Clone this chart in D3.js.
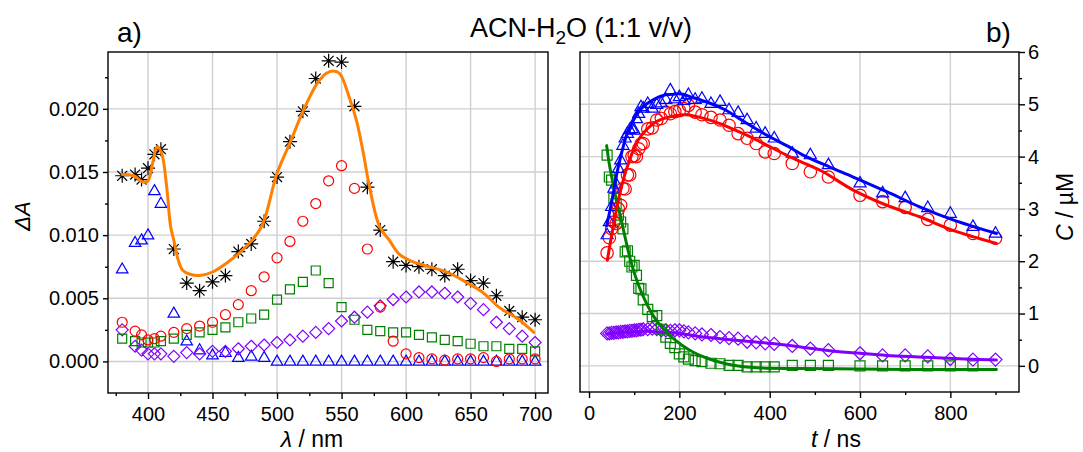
<!DOCTYPE html>
<html>
<head>
<meta charset="utf-8">
<script src="https://cdn.jsdelivr.net/npm/d3@7"></script>
<style>
  body { margin: 0; background: #fff; }
  svg { display: block; }
  text { font-family: "Liberation Sans", Arial, Helvetica, sans-serif; fill: #000; }
</style>
</head>
<body>
<svg id="chart" width="1083" height="452"></svg>
<script>
// ---------- panel a: transient absorption spectra ----------
const wavelength = [380,390,395,400,405,410,420,430,440,450,460,470,480,490,500,510,520,530,540,550,560,570,580,590,600,610,620,630,640,650,660,670,680,690,700];
const specStar = [0.0147,0.0148,0.0144,0.0153,0.0164,0.0168,0.0089,0.0062,0.0056,0.0063,0.0068,0.0087,0.0093,0.0111,0.0146,0.0174,0.0198,0.0224,0.0238,0.0237,0.0202,0.0138,0.0104,0.0079,0.0076,0.0075,0.0073,0.0068,0.0073,0.0064,0.0062,0.0052,0.0040,0.0035,0.0033];
const specCircle = [0.0031,0.0024,0.0021,0.0017,0.0018,0.0020,0.0023,0.0026,0.0028,0.0031,0.0037,0.0045,0.0056,0.0067,0.0082,0.0095,0.0111,0.0125,0.0143,0.0155,0.0137,0.0089,0.0043,0.0016,0.0006,0.0003,0.0002,0.0001,0.0002,0.0002,0.0003,0.0000,0.0002,0.0002,0.0002];
const specSquare = [0.0018,0.0016,0.0015,0.0015,0.0015,0.0016,0.0018,0.0021,0.0023,0.0025,0.0027,0.0031,0.0034,0.0037,0.0049,0.0057,0.0063,0.0072,0.0062,0.0043,0.0033,0.0025,0.0024,0.0023,0.0023,0.0021,0.0019,0.0017,0.0016,0.0014,0.0012,0.0012,0.0010,0.0010,0.0008];
const specDiamond = [0.0025,0.0012,0.0009,0.0006,0.0006,0.0006,0.0004,0.0007,0.0006,0.0008,0.0008,0.0010,0.0012,0.0013,0.0015,0.0017,0.0020,0.0023,0.0026,0.0032,0.0035,0.0039,0.0044,0.0049,0.0051,0.0055,0.0055,0.0054,0.0051,0.0046,0.0041,0.0031,0.0026,0.0020,0.0015];
const specTriangle = [0.0074,0.0095,0.0097,0.0101,0.0136,0.0126,0.0039,0.0017,0.0010,0.0006,0.0008,0.0004,0.0005,0.0004,0.0001,0.0001,0.0001,0.0001,0.0001,0.0001,0.0001,0.0001,0.0001,0.0001,0.0001,0.0001,0.0001,0.0001,0.0001,0.0001,0.0001,0.0001,0.0001,0.0001,0.0001];

// fitted spectrum (orange curve)
const fitLambda = [380,389,396,400,404,407,410.5,414.5,417.5,420,423.5,427,432.5,440,450.5,461,471,481.5,489,500,510,520.5,531,538,543.6,548.5,556,561.5,566.5,571.7,579.4,587,594.7,605,618,633.4,646,659,672,687.5,699];
const fitDA = [0.0148,0.0147,0.0142,0.0143,0.0159,0.0170,0.0165,0.0138,0.0107,0.0096,0.0080,0.0072,0.0069,0.0068,0.0071,0.0078,0.0086,0.0097,0.0109,0.0149,0.0173,0.0199,0.0220,0.0228,0.0230,0.0228,0.0209,0.0191,0.0167,0.0138,0.0107,0.0096,0.0085,0.0079,0.0075,0.0070,0.0063,0.0055,0.0043,0.0033,0.0023];

const lambdaTicks = [400,450,500,550,600,650,700];
const lambdaMinor = [375,425,475,525,575,625,675];
const daTicks = [0,0.005,0.010,0.015,0.020];
const daMinor = [0.0025,0.0075,0.0125,0.0175,0.0225];

// ---------- panel b: concentration kinetics ----------
const timeNs = [40,45,50,55,60,65,70,75,80,85,90,95,100,105,110,115,120,130,140,150,160,170,180,190,200,210,220,235,250,270,290,310,330,350,370,390,410,450,490,530,600,650,700,750,800,850,900];
const concTriangle = [2.53,2.78,3.07,3.42,3.50,3.80,3.96,4.24,4.38,4.47,4.54,4.56,4.53,4.75,4.85,4.98,4.95,5.04,4.95,5.02,5.05,5.12,5.30,5.13,5.17,5.10,5.21,5.12,5.14,5.04,5.08,4.92,4.87,4.73,4.57,4.47,4.38,4.09,4.06,3.87,3.52,3.33,3.24,3.05,2.94,2.69,2.56];
const concCircle = [2.16,2.45,2.62,2.75,2.72,3.00,3.07,3.39,3.38,3.65,3.65,4.00,4.02,4.00,4.15,4.24,4.25,4.53,4.55,4.70,4.73,4.85,4.82,4.86,4.88,4.92,4.98,4.85,4.80,4.75,4.70,4.60,4.44,4.35,4.25,4.09,4.06,3.87,3.71,3.61,3.26,3.14,3.03,2.80,2.69,2.53,2.44];
const concSquare = [4.03,3.61,3.55,3.20,3.10,2.88,2.75,2.62,2.18,2.20,2.00,1.89,1.92,1.73,1.48,1.47,1.26,1.08,0.94,0.96,0.70,0.55,0.43,0.35,0.23,0.17,0.13,0.10,0.08,0.05,0.04,0.01,0.01,-0.02,-0.02,-0.02,-0.02,0.01,0.01,0.01,0.00,0.00,0.00,0.00,0.00,0.00,null];
const concDiamond = [0.62,0.62,0.63,0.63,0.64,0.64,0.65,0.65,0.66,0.66,0.67,0.67,0.68,0.68,0.69,0.69,0.70,0.70,0.71,0.70,0.68,0.68,0.67,0.68,0.68,0.66,0.64,0.62,0.60,0.59,0.55,0.53,0.52,0.46,0.45,0.43,0.42,0.38,0.33,0.30,0.24,0.20,0.20,0.18,0.13,0.12,0.12];

// fitted kinetic traces
const fitBlueT = [39,47,54,61,69,76,83,95,105,116,128,145,164,185,201,230,268,300,327,360,400,440,474,533,585,659,732,806,902];
const fitBlueC = [2.68,3.00,3.32,3.65,3.96,4.20,4.41,4.64,4.79,4.92,5.01,5.10,5.17,5.19,5.20,5.13,5.02,4.90,4.76,4.58,4.38,4.20,4.03,3.80,3.61,3.33,3.04,2.79,2.53];
const fitRedT = [40.5,47,54,61,69,80,91,102,113,128,142,160,179,200,216,250,290,325,364,400,437,480,518,585,659,732,806,902];
const fitRedC = [2.02,2.35,2.68,3.00,3.32,3.68,3.96,4.20,4.37,4.52,4.63,4.71,4.76,4.79,4.80,4.74,4.63,4.50,4.35,4.19,4.03,3.86,3.71,3.36,3.07,2.85,2.59,2.34];
const fitGreenT = [39,46,54,61,69,80,91,102,113,127,142,160,179,205,231,260,290,327,380,474,600,750,902];
const fitGreenC = [4.21,3.80,3.45,3.15,2.88,2.45,2.05,1.73,1.47,1.20,0.96,0.75,0.58,0.40,0.26,0.15,0.07,0.00,-0.04,-0.05,-0.06,-0.07,-0.07];
const fitVioletT = [39,80,128,142,200,253,290,350,400,460,533,600,659,730,806,902];
const fitVioletC = [0.61,0.64,0.66,0.65,0.62,0.55,0.52,0.47,0.43,0.37,0.29,0.24,0.20,0.17,0.14,0.11];

const timeTicks = [0,200,400,600,800];
const timeMinor = [100,300,500,700,900];
const concTicks = [0,1,2,3,4,5,6];
const concMinor = [0.5,1.5,2.5,3.5,4.5,5.5];

// ---------- drawing ----------
const svg = d3.select("#chart");
const GRID = "#cfcfcf";
const COL = { black:"#000000", red:"#ff0000", green:"#008000", blue:"#0000ff", violet:"#8000ff", orange:"#ff8000" };

// symbol path builders
const sym = {
  square: s => `M${-s/2},${-s/2}h${s}v${s}h${-s}Z`,
  triangle: (w,h) => `M0,${-h/2}L${w/2},${h/2}L${-w/2},${h/2}Z`,
  diamond: s => `M0,${-s}L${s},0L0,${s}L${-s},0Z`,
  star: s => { const d = s*0.7071;
    return `M0,${-s}V${s}M${-s},0H${s}M${-d},${-d}L${d},${d}M${-d},${d}L${d},${-d}`; }
};

function drawFrame(g, x, y) {
  const [x0,x1] = x.range(), [y0,y1] = y.range();
  g.append("rect").attr("x",x0).attr("y",y1).attr("width",x1-x0).attr("height",y0-y1)
    .attr("fill","none").attr("stroke","#000").attr("stroke-width",1.4);
}

function drawGrid(g, x, y, xt, yt) {
  const [x0,x1] = x.range(), [y0,y1] = y.range();
  g.selectAll(null).data(xt).join("line")
    .attr("x1",d=>x(d)).attr("x2",d=>x(d)).attr("y1",y0).attr("y2",y1)
    .attr("stroke",GRID).attr("stroke-width",1.4);
  g.selectAll(null).data(yt).join("line")
    .attr("y1",d=>y(d)).attr("y2",d=>y(d)).attr("x1",x0).attr("x2",x1)
    .attr("stroke",GRID).attr("stroke-width",1.4);
}

function styleAxis(sel) {
  sel.select(".domain").remove();
  sel.selectAll(".tick line").attr("stroke","#000").attr("stroke-width",1.4);
  sel.selectAll(".tick text").attr("font-size",20).attr("font-family","Liberation Sans, Arial, sans-serif").attr("fill","#000");
}

function scatter(g, xs, ys, x, y, kind, color, size) {
  const pts = xs.map((v,i)=>[v, ys[i]]).filter(p => p[1] !== null);
  const sel = g.append("g").attr("fill","none").attr("stroke",color).attr("stroke-width",1.2);
  if (kind === "circle") {
    sel.selectAll("circle").data(pts).join("circle")
      .attr("cx",d=>x(d[0])).attr("cy",d=>y(d[1])).attr("r",size);
  } else {
    let path;
    if (kind === "square") path = sym.square(size);
    else if (kind === "triangle") path = sym.triangle(size*1.15, size);
    else if (kind === "diamond") path = sym.diamond(size);
    else path = sym.star(size);
    sel.selectAll("path").data(pts).join("path")
      .attr("transform",d=>`translate(${x(d[0])},${y(d[1])})`).attr("d",path);
  }
}

function fitLine(g, xs, ys, x, y, color, w) {
  const line = d3.line().x(d=>x(d[0])).y(d=>y(d[1])).curve(d3.curveCatmullRom.alpha(0.5));
  g.append("path").datum(xs.map((v,i)=>[v,ys[i]]))
    .attr("d",line).attr("fill","none").attr("stroke",color).attr("stroke-width",w)
    .attr("stroke-linejoin","round").attr("stroke-linecap","round");
}

// ---- panel a ----
const xa = d3.scaleLinear().domain([369, 710]).range([108, 548]);
const ya = d3.scaleLinear().domain([-0.0025, 0.0245]).range([393, 52]);
const ga = svg.append("g");
drawGrid(ga, xa, ya, lambdaTicks, daTicks);

const clipA = svg.append("clipPath").attr("id","clipA").append("rect")
  .attr("x",108).attr("y",52).attr("width",440).attr("height",341);
const pa = ga.append("g").attr("clip-path","url(#clipA)");
scatter(pa, wavelength, specTriangle, xa, ya, "triangle", COL.blue, 10);
scatter(pa, wavelength, specDiamond, xa, ya, "diamond", COL.violet, 6);
scatter(pa, wavelength, specSquare, xa, ya, "square", COL.green, 9);
scatter(pa, wavelength, specCircle, xa, ya, "circle", COL.red, 5);
scatter(pa, wavelength, specStar, xa, ya, "star", COL.black, 7);
fitLine(pa, fitLambda, fitDA, xa, ya, COL.orange, 3);
drawFrame(ga, xa, ya);

ga.append("g").attr("transform","translate(0,393)")
  .call(d3.axisBottom(xa).tickValues(lambdaTicks).tickSize(6).tickPadding(8).tickFormat(d3.format("d")))
  .call(styleAxis);
ga.append("g").attr("transform","translate(0,393)")
  .call(d3.axisBottom(xa).tickValues(lambdaMinor).tickSize(3).tickFormat(""))
  .call(styleAxis);
ga.append("g").attr("transform","translate(108,0)")
  .call(d3.axisLeft(ya).tickValues(daTicks).tickSize(5).tickPadding(4).tickFormat(d3.format(".3f")))
  .call(styleAxis);
ga.append("g").attr("transform","translate(108,0)")
  .call(d3.axisLeft(ya).tickValues(daMinor).tickSize(3).tickFormat(""))
  .call(styleAxis);

// ---- panel b ----
const xb = d3.scaleLinear().domain([-20, 952]).range([580, 1019]);
const yb = d3.scaleLinear().domain([-0.5, 6]).range([392, 52]);
const gb = svg.append("g");
drawGrid(gb, xb, yb, timeTicks, [0,1,2,3,4,5]);

const clipB = svg.append("clipPath").attr("id","clipB").append("rect")
  .attr("x",580).attr("y",52).attr("width",439).attr("height",340);
const pb = gb.append("g").attr("clip-path","url(#clipB)");
scatter(pb, timeNs, concDiamond, xb, yb, "diamond", COL.violet, 6.5);
scatter(pb, timeNs, concSquare, xb, yb, "square", COL.green, 10);
scatter(pb, timeNs, concCircle, xb, yb, "circle", COL.red, 6.2);
scatter(pb, timeNs, concTriangle, xb, yb, "triangle", COL.blue, 10.5);
fitLine(pb, fitVioletT, fitVioletC, xb, yb, COL.violet, 3);
fitLine(pb, fitGreenT, fitGreenC, xb, yb, COL.green, 3);
fitLine(pb, fitRedT, fitRedC, xb, yb, COL.red, 3);
fitLine(pb, fitBlueT, fitBlueC, xb, yb, COL.blue, 3);
drawFrame(gb, xb, yb);

gb.append("g").attr("transform","translate(0,392)")
  .call(d3.axisBottom(xb).tickValues(timeTicks).tickSize(6).tickPadding(8).tickFormat(d3.format("d")))
  .call(styleAxis);
gb.append("g").attr("transform","translate(0,392)")
  .call(d3.axisBottom(xb).tickValues(timeMinor).tickSize(3).tickFormat(""))
  .call(styleAxis);
gb.append("g").attr("transform","translate(1019,0)")
  .call(d3.axisRight(yb).tickValues(concTicks).tickSize(6).tickPadding(3).tickFormat(d3.format("d")))
  .call(styleAxis);
gb.append("g").attr("transform","translate(1019,0)")
  .call(d3.axisRight(yb).tickValues(concMinor).tickSize(3).tickFormat(""))
  .call(styleAxis);

// ---- labels ----
svg.append("text").attr("x",117).attr("y",42).attr("font-size",28).text("a)");
svg.append("text").attr("x",986).attr("y",42).attr("font-size",28).text("b)");

const title = svg.append("text").attr("x",581).attr("y",37).attr("font-size",27).attr("text-anchor","middle");
title.append("tspan").text("ACN-H");
title.append("tspan").attr("font-size",19).attr("dy",7).text("2");
title.append("tspan").attr("dy",-7).text("O (1:1 v/v)");

svg.append("text").attr("transform","translate(30,216) rotate(-90)")
  .attr("text-anchor","middle").attr("font-size",22).attr("font-style","italic").text("ΔA");

const xl = svg.append("text").attr("x",312).attr("y",447).attr("text-anchor","middle").attr("font-size",23);
xl.append("tspan").attr("font-style","italic").text("λ");
xl.append("tspan").text(" / nm");

const tl = svg.append("text").attr("x",836).attr("y",447).attr("text-anchor","middle").attr("font-size",23);
tl.append("tspan").attr("font-style","italic").text("t");
tl.append("tspan").text(" / ns");

const cl = svg.append("text").attr("transform","translate(1073,207) rotate(-90)")
  .attr("text-anchor","middle").attr("font-size",23);
cl.append("tspan").attr("font-style","italic").text("C");
cl.append("tspan").text(" / µM");
</script>
</body>
</html>
